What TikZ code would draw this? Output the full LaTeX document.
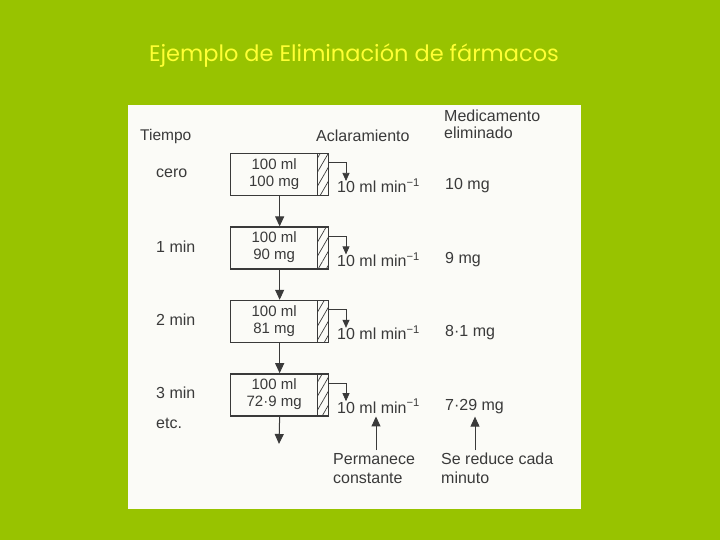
\documentclass[tikz,border=0pt]{standalone}
\usepackage{fontspec}
\setmainfont{Liberation Sans}
\newfontfamily\titlefont{Poppins}
\usepackage{tikz}
\usetikzlibrary{%
        arrows.meta,
        patterns.meta,
        positioning,
    }
\definecolor{slidegreen}{HTML}{98C300}
\definecolor{titleyellow}{HTML}{FFFF33}
\definecolor{paper}{HTML}{FBFBF7}
\definecolor{ink}{HTML}{3A3A3A}
\tikzset{%
    compartment/.style={%
        draw=ink,
        line width=1.3pt,
        minimum width=98pt,
        minimum height=42pt,
        inner sep=0pt,
        text=ink,
        font=\fontsize{15}{17}\selectfont,
    },
    hatchstrip/.style={%
        draw=ink,
        line width=1pt,
        minimum width=11pt,
        minimum height=42pt,
        inner sep=0pt,
        pattern={Lines[angle=60, distance=7pt, line width=.7pt]},
        pattern color=ink,
    },
    flow/.style={%
        draw=ink,
        line width=1pt,
        -{Triangle[length=10pt, width=9pt]},
    },
    dripflow/.style={%
        draw=ink,
        line width=.7pt,
        -{Triangle[length=8pt, width=7pt]},
    },
    plaintext/.style={%
        text=ink,
        inner sep=0pt,
        font=\fontsize{16}{19}\selectfont,
        align=left,
    },
}

\begin{document}
\begin{tikzpicture}[x=1pt, y=-1pt]

    %%%%%%%%%%%%%%
    % Background %
    %%%%%%%%%%%%%%
    \fill[slidegreen] (0, 0) rectangle (720, 540);
    \fill[paper] (128, 105) rectangle (581, 509);
    \useasboundingbox (0, 0) rectangle (720, 540);

    \node[text=titleyellow, font=\titlefont\fontsize{22.5}{22.5}\selectfont]
        (title) at (354, 56) {Ejemplo de Eliminación de fármacos};

    %%%%%%%%%%%
    % Headers %
    %%%%%%%%%%%
    \node[plaintext, anchor=west, font=\fontsize{15.5}{19}\selectfont]
        (head-time) at (140, 136) {Tiempo};
    \node[plaintext, anchor=west] (head-clear) at (316, 136) {Aclaramiento};
    \node[plaintext, anchor=north west, font=\fontsize{16}{17}\selectfont]
        (head-drug) at (444, 110) {Medicamento\\eliminado};

    %%%%%%%%%%%%%%%%
    % Compartments %
    %%%%%%%%%%%%%%%%
    \foreach \i/\tm/\mg/\out in {%
        0/cero/100 mg/10 mg,
        1/1 min/90 mg/9 mg,
        2/2 min/81 mg/8·1 mg,
        3/3 min/72·9 mg/7·29 mg%
    }{%
        \node[compartment, anchor=north west] (box-\i)
            at (230, 153 + \i * 73.4) {%
                \begin{tabular}{@{}c@{\hspace{11pt}}}
                    100 ml\\
                    \mg
                \end{tabular}
            };
        \node[hatchstrip, anchor=east] (strip-\i) at (box-\i.east) {};
        \node[plaintext, anchor=west] (time-\i)
            at (156, 153 + \i * 73.4 + 20) {\tm};
        \node[plaintext, anchor=west] (rate-\i)
            at (337, 153 + \i * 73.4 + 33) {10 ml min\textsuperscript{−1}};
        \node[plaintext, anchor=west] (elim-\i)
            at (445, 153 + \i * 73.4 + 33) {\out};

        % Outflow
        \coordinate (drop-\i) at (346, 153 + \i * 73.4 + 28);
        \draw[dripflow] ([yshift=12pt] strip-\i.east) -| (drop-\i);
    };

    \node[plaintext, anchor=west] (time-etc) at (156, 423) {etc.};

    % Transfers
    \foreach \i/\j in {0/1, 1/2, 2/3}{%
        \draw[flow] (box-\i.south) -- (box-\j.north);
    };
    \coordinate (exit) at (279, 444);
    \draw[flow] (box-3.south) -- (exit);

    %%%%%%%%%
    % Notes %
    %%%%%%%%%
    \node[plaintext, anchor=north west] (keep) at (333, 453)
        {Permanece\\constante};
    \node[plaintext, anchor=north west] (reduce) at (441, 453)
        {Se reduce cada\\minuto};

    \coordinate (keep-tail) at (376, 450);
    \coordinate (reduce-tail) at (475, 450);
    \draw[flow, shorten >=3pt] (keep-tail) -- (keep-tail |- rate-3.south);
    \draw[flow, shorten >=3pt] (reduce-tail) -- (reduce-tail |- elim-3.south);

\end{tikzpicture}
\end{document}
